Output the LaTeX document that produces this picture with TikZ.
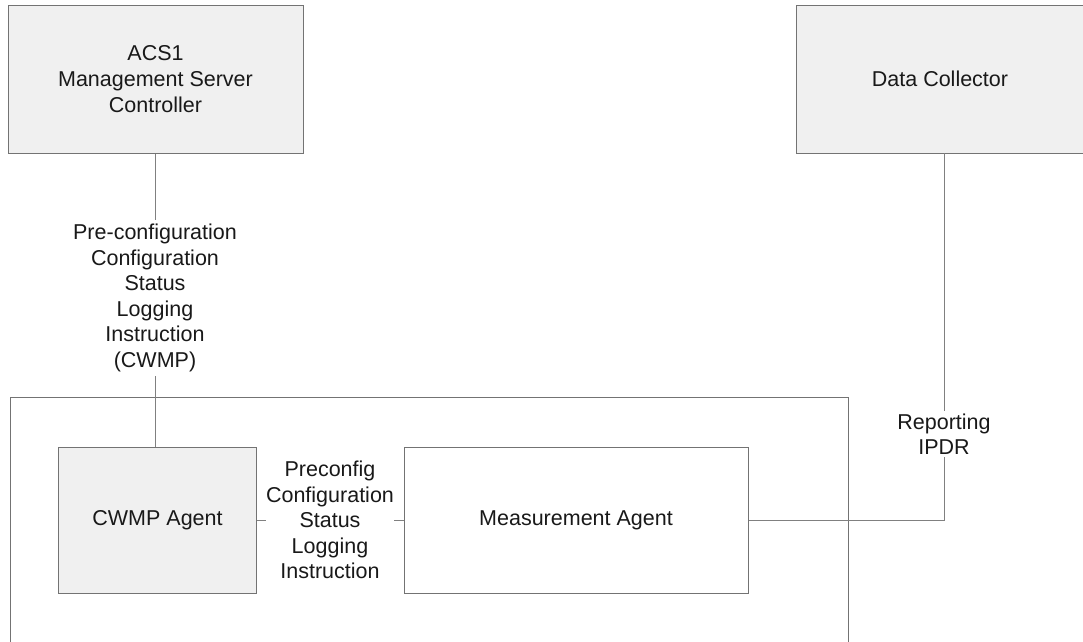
\documentclass[tikz,border=0pt]{standalone}
\usepackage{fontspec}
\setmainfont{Liberation Sans}
\begin{document}
\begin{tikzpicture}[x=1pt,y=-1pt,
  every node/.style={font=\fontsize{21.5}{25.6}\selectfont, text=black!90},
  graybox/.style={draw=black!55, line width=1pt, fill=black!6, inner sep=0pt},
  whitebox/.style={draw=black!55, line width=1pt, fill=white, inner sep=0pt},
  conn/.style={draw=black!50, line width=1pt},
  lbl/.style={fill=white, align=center, inner sep=1pt}]
\useasboundingbox (0,0) rectangle (1083,641);
\clip (0,0) rectangle (1083,641);
\fill[white] (0,0) rectangle (1083,641);
% outer container (open at bottom, clipped)
\node[draw=black!55, line width=1pt, minimum width=838pt, minimum height=320pt, anchor=north west, inner sep=0pt] (outer) at (10,397) {};
% boxes
\node[graybox, minimum width=295pt, minimum height=148pt, align=center] (acs) at (155.5,79) {ACS1\\Management Server\\Controller};
\node[graybox, minimum width=300pt, minimum height=148pt, anchor=north west] (dc) at (796,5) {};
\node at (940,79) {Data Collector};
\coordinate (dcb) at (944,153);
\node[graybox, minimum width=198pt, minimum height=146pt] (cwmp) at (157.5,520) {CWMP Agent};
\node[whitebox, minimum width=344pt, minimum height=146pt] (ma) at (576,520) {Measurement Agent};
% connectors
\draw[conn] (acs.south -| 155,0) -- (cwmp.north -| 155,0);
\node[lbl, inner sep=4pt] (l1) at (155,298) {Pre-configuration\\Configuration\\Status\\Logging\\Instruction\\(CWMP)};
\draw[conn] (cwmp.east) -- (ma.west);
\node[lbl, inner sep=0.5pt] (l2) at (330,520) {Preconfig\\Configuration\\Status\\Logging\\Instruction};
\coordinate (corner) at (944,520);
\draw[conn] (ma.east) -- (corner) -- (dcb);
\node[lbl, inner sep=2pt] (l3) at (944,434) {Reporting\\IPDR};
\end{tikzpicture}
\end{document}
